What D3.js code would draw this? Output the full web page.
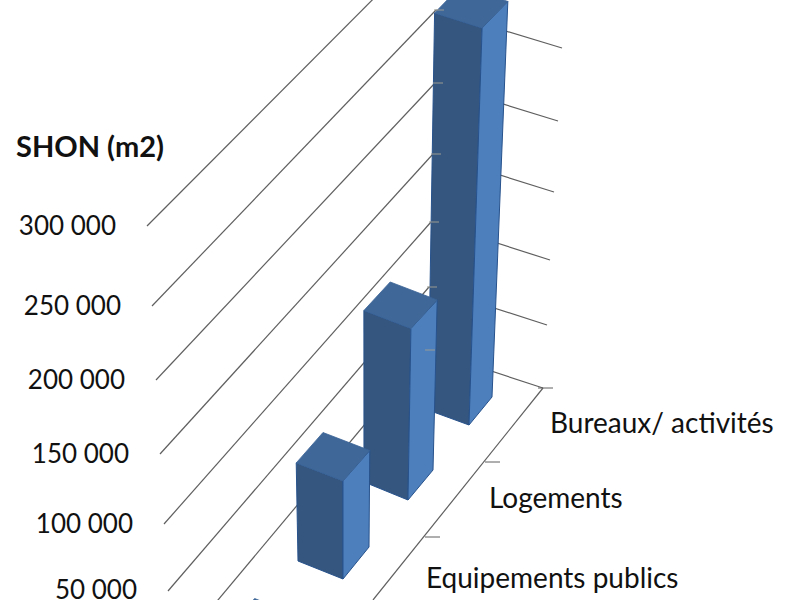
<!DOCTYPE html>
<html><head><meta charset="utf-8">
<script src="https://cdn.jsdelivr.net/npm/d3@7"></script>
<style>html,body{margin:0;padding:0;background:#fff;overflow:hidden}svg{display:block}text{font-family:Lato,"Open Sans",sans-serif;fill:#111}</style>
</head><body><svg id="c" width="800" height="600" viewBox="0 0 800 600"></svg>
<script>
// Data
const yTicks = [0, 50000, 100000, 150000, 200000, 250000, 300000];
const yTickLabels = ["", "50 000", "100 000", "150 000", "200 000", "250 000", "300 000"];
const categories = ["", "Equipements publics", "Logements", "Bureaux/ activités"];
const surfaces = [12000, 77000, 132000, 288000];
const yTitle = "SHON (m2)";

const svg = d3.select("#c");
const idx = [0, 1, 2, 3];
// Perspective walls: each corner of the chart walls as a scale over the value axis
const leftX  = d3.scaleLinear().domain(yTicks).range([172, 168, 164, 160, 156, 152, 147]);
const leftY  = d3.scaleLinear().domain(yTicks).range([655, 591, 524, 454, 380, 306, 226]);
const backX  = d3.scaleLinear().domain(yTicks).range([427, 429, 431, 433, 435, 436, 437]);
const backY  = d3.scaleLinear().domain(yTicks).range([350, 287, 222, 154, 83, 10, -65]);
const rightX = d3.scaleLinear().domain(yTicks).range([543, 547, 550, 554, 558, 562, 566]);
const rightY = d3.scaleLinear().domain(yTicks).range([388, 325, 260, 192, 121, 48, -28]);
const height = d3.scaleLinear().domain(yTicks).range([0, 63, 128, 196, 267, 340, 415]);
// Floor scales over the category index
const frontX = d3.scaleLinear().domain(idx).range([274, 343, 408, 469]);
const frontY = d3.scaleLinear().domain(idx).range([663, 579, 500, 425]);
const lean   = d3.scaleLinear().domain(idx).range([-0.015, 0, 0.017, 0.033]);
const sideLX = d3.scaleLinear().domain(idx).range([46, 45, 44, 41]);
const sideLY = d3.scaleLinear().domain(idx).range([18, 18, 18, 15]);
const sideRX = d3.scaleLinear().domain(idx).range([27, 26, 25, 23]);
const sideRY = d3.scaleLinear().domain(idx).range([33, 32, 30, 28]);
const labelX = d3.scaleLinear().domain(idx).range([360, 426, 489, 550]);
const labelY = d3.scaleLinear().domain(idx).range([664, 581, 501, 426]);
const tickFloorX = d3.scaleLinear().domain([0, 1, 2, 3]).range([373, 430, 490, 543]);
const tickFloorY = d3.scaleLinear().domain([0, 1, 2, 3]).range([600, 537, 462, 388]);

const line = d3.line();
const grid = "#5f5f5f";

// Walls
svg.append("g").selectAll("path").data(yTicks).join("path")
  .attr("d", v => line([[leftX(v), leftY(v)], [backX(v), backY(v)]]))
  .attr("fill", "none").attr("stroke", grid).attr("stroke-width", 1.2);
svg.append("g").selectAll("path").data(yTicks).join("path")
  .attr("d", v => line([[backX(v), backY(v)], [rightX(v), rightY(v)]]))
  .attr("fill", "none").attr("stroke", grid).attr("stroke-width", 1.2);
// Floor front edge and its ticks
svg.append("path")
  .attr("d", line([[tickFloorX(0), tickFloorY(0)], [rightX(0), rightY(0)]]))
  .attr("fill", "none").attr("stroke", grid).attr("stroke-width", 1.2);
svg.append("g").selectAll("path").data([1, 2, 3]).join("path")
  .attr("d", t => line([[tickFloorX(t) - 5, tickFloorY(t)], [tickFloorX(t) + 10, tickFloorY(t)]]))
  .attr("fill", "none").attr("stroke", grid).attr("stroke-width", 1);

// Bars, back to front
function corners(i, v) {
  const h = height(v);
  const gL = 1 + 0.0004 * h, gR = 1 + 0.0003 * h;
  const fx = frontX(i), fy = frontY(i);
  const base = {
    F: [fx, fy],
    L: [fx - sideLX(i), fy - sideLY(i)],
    R: [fx + sideRX(i), fy - sideRY(i)]
  };
  const tx = fx + lean(i) * h, ty = fy - h;
  const top = {
    F: [tx, ty],
    L: [tx - sideLX(i) * gL, ty - sideLY(i)],
    R: [tx + sideRX(i) * gR, ty - sideRY(i) * 0.95]
  };
  top.B = [top.L[0] + top.R[0] - top.F[0], top.L[1] + top.R[1] - top.F[1]];
  return { base, top };
}
const bars = svg.append("g").selectAll("g").data(idx.slice().reverse()).join("g");
const edge = "#27528c";
bars.append("path")
  .attr("d", i => { const c = corners(i, surfaces[i]); return line([c.base.L, c.base.F, c.top.F, c.top.L]) + "Z"; })
  .attr("fill", "#34567f").attr("stroke", edge).attr("stroke-width", 1);
bars.append("path")
  .attr("d", i => { const c = corners(i, surfaces[i]); return line([c.base.F, c.base.R, c.top.R, c.top.F]) + "Z"; })
  .attr("fill", "#4d7fbc").attr("stroke", edge).attr("stroke-width", 1);
bars.append("path")
  .attr("d", i => { const c = corners(i, surfaces[i]); return line([c.top.F, c.top.R, c.top.B, c.top.L]) + "Z"; })
  .attr("fill", "#3f6899").attr("stroke", "#3a6296").attr("stroke-width", 0.8);

// Ticks of the back corner, showing over the bars
svg.append("g").selectAll("path").data(yTicks.slice(0, 6)).join("path")
  .attr("d", v => line([[backX(v) - 2, backY(v)], [backX(v) + 8, backY(v)]]))
  .attr("fill", "none").attr("stroke", "#9a9a94").attr("stroke-width", 1);

// Labels
svg.append("g").selectAll("text").data(yTicks.filter(v => v > 0)).join("text")
  .attr("x", v => leftX(v) - 31).attr("y", v => leftY(v) + (v === 50000 ? 1 : 2))
  .attr("text-anchor", "end").attr("dominant-baseline", "middle")
  .attr("font-size", 26).text(v => yTickLabels[yTicks.indexOf(v)]);
svg.append("g").selectAll("text").data(idx.filter(i => categories[i])).join("text")
  .attr("x", i => labelX(i)).attr("y", i => labelY(i))
  .attr("dominant-baseline", "middle").attr("font-size", 28)
  .text(i => categories[i]);
svg.append("text").attr("x", 16).attr("y", 150)
  .attr("dominant-baseline", "middle").attr("font-size", 29).attr("font-weight", 700)
  .text(yTitle);
</script></body></html>
